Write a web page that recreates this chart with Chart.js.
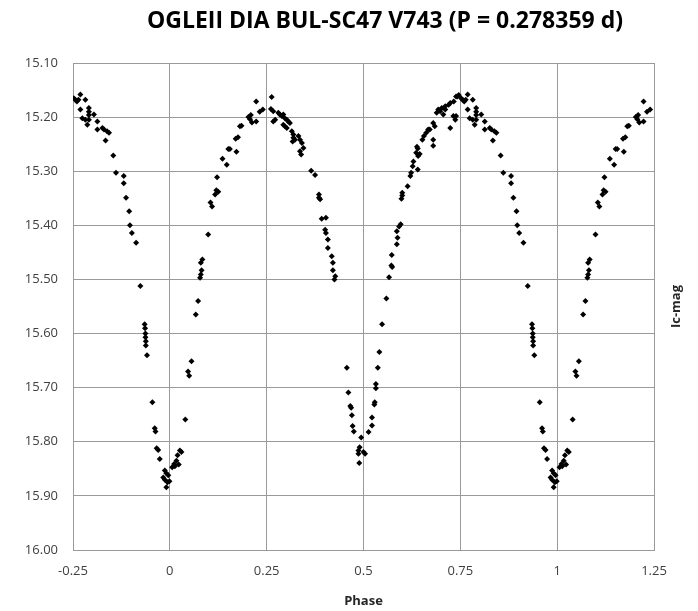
<!DOCTYPE html>
<html>
<head>
<meta charset="utf-8">
<script src="https://cdn.jsdelivr.net/npm/chart.js@4.4.1/dist/chart.umd.min.js"></script>
<style>
  html, body { margin: 0; padding: 0; background: #fff; }
  #wrap { width: 698px; height: 611px; }
</style>
</head>
<body>
<div id="wrap"><canvas id="lc" width="698" height="611"></canvas></div>
<script>
// --- Data (one cycle, phase 0..1) ---
const chartTitle = 'OGLEII DIA BUL-SC47 V743 (P = 0.278359 d)';
const xTitle = 'Phase';
const yTitle = 'Ic-mag';

const phase = [
  0.006, 0.011, 0.013, 0.017, 0.020, 0.023, 0.026, 0.030, 0.040, 0.047,
  0.050, 0.056, 0.067, 0.073, 0.078, 0.080, 0.082, 0.080, 0.084, 0.099,
  0.105, 0.109, 0.117, 0.120, 0.125, 0.122, 0.136, 0.147, 0.151, 0.155,
  0.172, 0.170, 0.176, 0.181, 0.185, 0.203, 0.207, 0.212, 0.209, 0.223,
  0.223, 0.232, 0.240,
  0.263, 0.261, 0.267, 0.280, 0.284, 0.289, 0.293, 0.272, 0.267, 0.297,
  0.302, 0.306, 0.310, 0.293, 0.297, 0.302, 0.315, 0.319, 0.319, 0.323,
  0.332, 0.336, 0.341, 0.345, 0.336, 0.339, 0.317, 0.365, 0.375, 0.385,
  0.385, 0.388, 0.392, 0.403, 0.401, 0.403, 0.408, 0.408, 0.418, 0.421,
  0.421, 0.427, 0.425, 0.457, 0.461, 0.466, 0.468, 0.470, 0.472, 0.475,
  0.494, 0.490, 0.487, 0.487, 0.500, 0.504, 0.489,
  0.513, 0.522, 0.522, 0.528, 0.529, 0.532, 0.532, 0.537, 0.541, 0.548,
  0.559, 0.566, 0.572, 0.574, 0.573, 0.586, 0.588, 0.586, 0.592, 0.596,
  0.598, 0.600, 0.600, 0.614, 0.621, 0.623, 0.627, 0.629, 0.640, 0.636,
  0.641, 0.645, 0.638, 0.640, 0.652, 0.656, 0.662, 0.667, 0.680, 0.680,
  0.671, 0.680, 0.684, 0.689, 0.693, 0.698, 0.702, 0.711, 0.720, 0.724,
  0.733, 0.742, 0.746, 0.724, 0.737, 0.732, 0.706, 0.711, 0.739, 0.739,
  0.752, 0.756, 0.760, 0.764, 0.769, 0.782, 0.769, 0.791, 0.791, 0.791,
  0.791, 0.774, 0.782, 0.804, 0.813, 0.787, 0.813, 0.826, 0.830, 0.838,
  0.843, 0.834, 0.854, 0.861, 0.881, 0.881, 0.887, 0.895, 0.897, 0.902,
  0.913, 0.924, 0.935, 0.936, 0.937, 0.937, 0.938, 0.938, 0.941, 0.955,
  0.961, 0.963, 0.966, 0.970, 0.974, 0.983, 0.987, 0.987, 0.991, 0.991,
  0.994, 0.996, 0.999
];
const mag = [
  15.847, 15.841, 15.845, 15.835, 15.825, 15.842, 15.816, 15.819, 15.759, 15.670,
  15.678, 15.651, 15.565, 15.540, 15.497, 15.491, 15.483, 15.469, 15.463, 15.417,
  15.358, 15.365, 15.343, 15.335, 15.338, 15.311, 15.277, 15.288, 15.259, 15.259,
  15.264, 15.240, 15.237, 15.217, 15.216, 15.200, 15.204, 15.210, 15.196, 15.208,
  15.171, 15.190, 15.186,
  15.163, 15.185, 15.189, 15.192, 15.195, 15.198, 15.195, 15.205, 15.208, 15.202,
  15.205, 15.208, 15.211, 15.214, 15.217, 15.220, 15.226, 15.232, 15.238, 15.242,
  15.235, 15.242, 15.248, 15.257, 15.263, 15.269, 15.245, 15.299, 15.307, 15.343,
  15.349, 15.352, 15.388, 15.386, 15.408, 15.414, 15.426, 15.442, 15.457, 15.469,
  15.483, 15.494, 15.500, 15.663, 15.709, 15.734, 15.737, 15.751, 15.771, 15.781,
  15.792, 15.810, 15.816, 15.822, 15.819, 15.822, 15.839,
  15.782, 15.770, 15.755, 15.731, 15.727, 15.693, 15.701, 15.663, 15.634, 15.583,
  15.535, 15.496, 15.474, 15.477, 15.455, 15.435, 15.423, 15.411, 15.402, 15.398,
  15.351, 15.345, 15.340, 15.328, 15.309, 15.303, 15.291, 15.282, 15.297, 15.266,
  15.272, 15.268, 15.255, 15.258, 15.242, 15.235, 15.229, 15.223, 15.242, 15.253,
  15.223, 15.211, 15.217, 15.192, 15.186, 15.189, 15.183, 15.180, 15.177, 15.174,
  15.171, 15.162, 15.159, 15.220, 15.205, 15.198, 15.195, 15.186, 15.162, 15.198,
  15.165, 15.168, 15.171, 15.168, 15.158, 15.168, 15.186, 15.183, 15.190, 15.196,
  15.205, 15.202, 15.205, 15.195, 15.208, 15.214, 15.223, 15.220, 15.223, 15.226,
  15.229, 15.243, 15.271, 15.303, 15.309, 15.322, 15.349, 15.374, 15.400, 15.414,
  15.432, 15.512, 15.583, 15.590, 15.600, 15.607, 15.614, 15.622, 15.640, 15.727,
  15.775, 15.781, 15.812, 15.815, 15.832, 15.866, 15.853, 15.870, 15.858, 15.884,
  15.875, 15.862, 15.873
];

const xTicks = [-0.25, 0, 0.25, 0.5, 0.75, 1, 1.25];
const yTicks = [15.10, 15.20, 15.30, 15.40, 15.50, 15.60, 15.70, 15.80, 15.90, 16.00];

// the plot repeats the cycle one period before and after
const cycleShifts = [-1, 0, 1];

// --- Build points ---
const points = [];
cycleShifts.forEach(k => {
  phase.forEach((p, i) => {
    const x = p + k;
    if (x >= xTicks[0] && x <= xTicks[xTicks.length - 1]) {
      points.push({ x: x, y: mag[i] });
    }
  });
});

// --- Titles drawn at Excel-like positions ---
const textPlugin = {
  id: 'textLabels',
  afterDraw(chart) {
    const ctx = chart.ctx;
    const area = chart.chartArea;
    ctx.save();
    ctx.textAlign = 'center';
    ctx.textBaseline = 'middle';
    ctx.fillStyle = '#000';
    ctx.font = 'bold 23px "Open Sans"';
    ctx.fillText(chartTitle, 385, 21);

    ctx.fillStyle = '#262626';
    ctx.font = 'bold 13px "Open Sans"';
    ctx.fillText(xTitle, (area.left + area.right) / 2, 601);

    ctx.translate(676, (area.top + area.bottom) / 2);
    ctx.rotate(-Math.PI / 2);
    ctx.fillText(yTitle, 0, 0);
    ctx.restore();
  }
};

Chart.defaults.font.family = '"Open Sans", sans-serif';
Chart.defaults.font.size = 13;
Chart.defaults.color = '#404040';

new Chart(document.getElementById('lc'), {
  type: 'scatter',
  data: {
    datasets: [{
      label: yTitle,
      data: points,
      pointStyle: 'rectRot',
      pointRadius: 3,
      backgroundColor: '#000',
      borderColor: '#000',
      borderWidth: 0
    }]
  },
  options: {
    responsive: false,
    animation: false,
    layout: { padding: { left: 0, right: 44, top: 63, bottom: 0 } },
    plugins: {
      legend: { display: false },
      tooltip: { enabled: false }
    },
    scales: {
      x: {
        type: 'linear',
        min: xTicks[0],
        max: xTicks[xTicks.length - 1],
        afterBuildTicks: s => { s.ticks = xTicks.map(v => ({ value: v })); },
        afterFit: s => { s.height = 61; },
        grid: { color: '#9a9a9a', drawTicks: false },
        border: { color: '#9a9a9a' },
        ticks: {
          padding: 13,
          callback: v => String(parseFloat(v.toFixed(2)))
        }
      },
      y: {
        type: 'linear',
        reverse: true,
        min: yTicks[0],
        max: yTicks[yTicks.length - 1],
        afterBuildTicks: s => { s.ticks = yTicks.map(v => ({ value: v })); },
        afterFit: s => { s.width = 73; },
        grid: { color: '#9a9a9a', drawTicks: false },
        border: { color: '#9a9a9a' },
        ticks: {
          padding: 15,
          callback: v => v.toFixed(2)
        }
      }
    }
  },
  plugins: [textPlugin]
});
</script>
</body>
</html>
